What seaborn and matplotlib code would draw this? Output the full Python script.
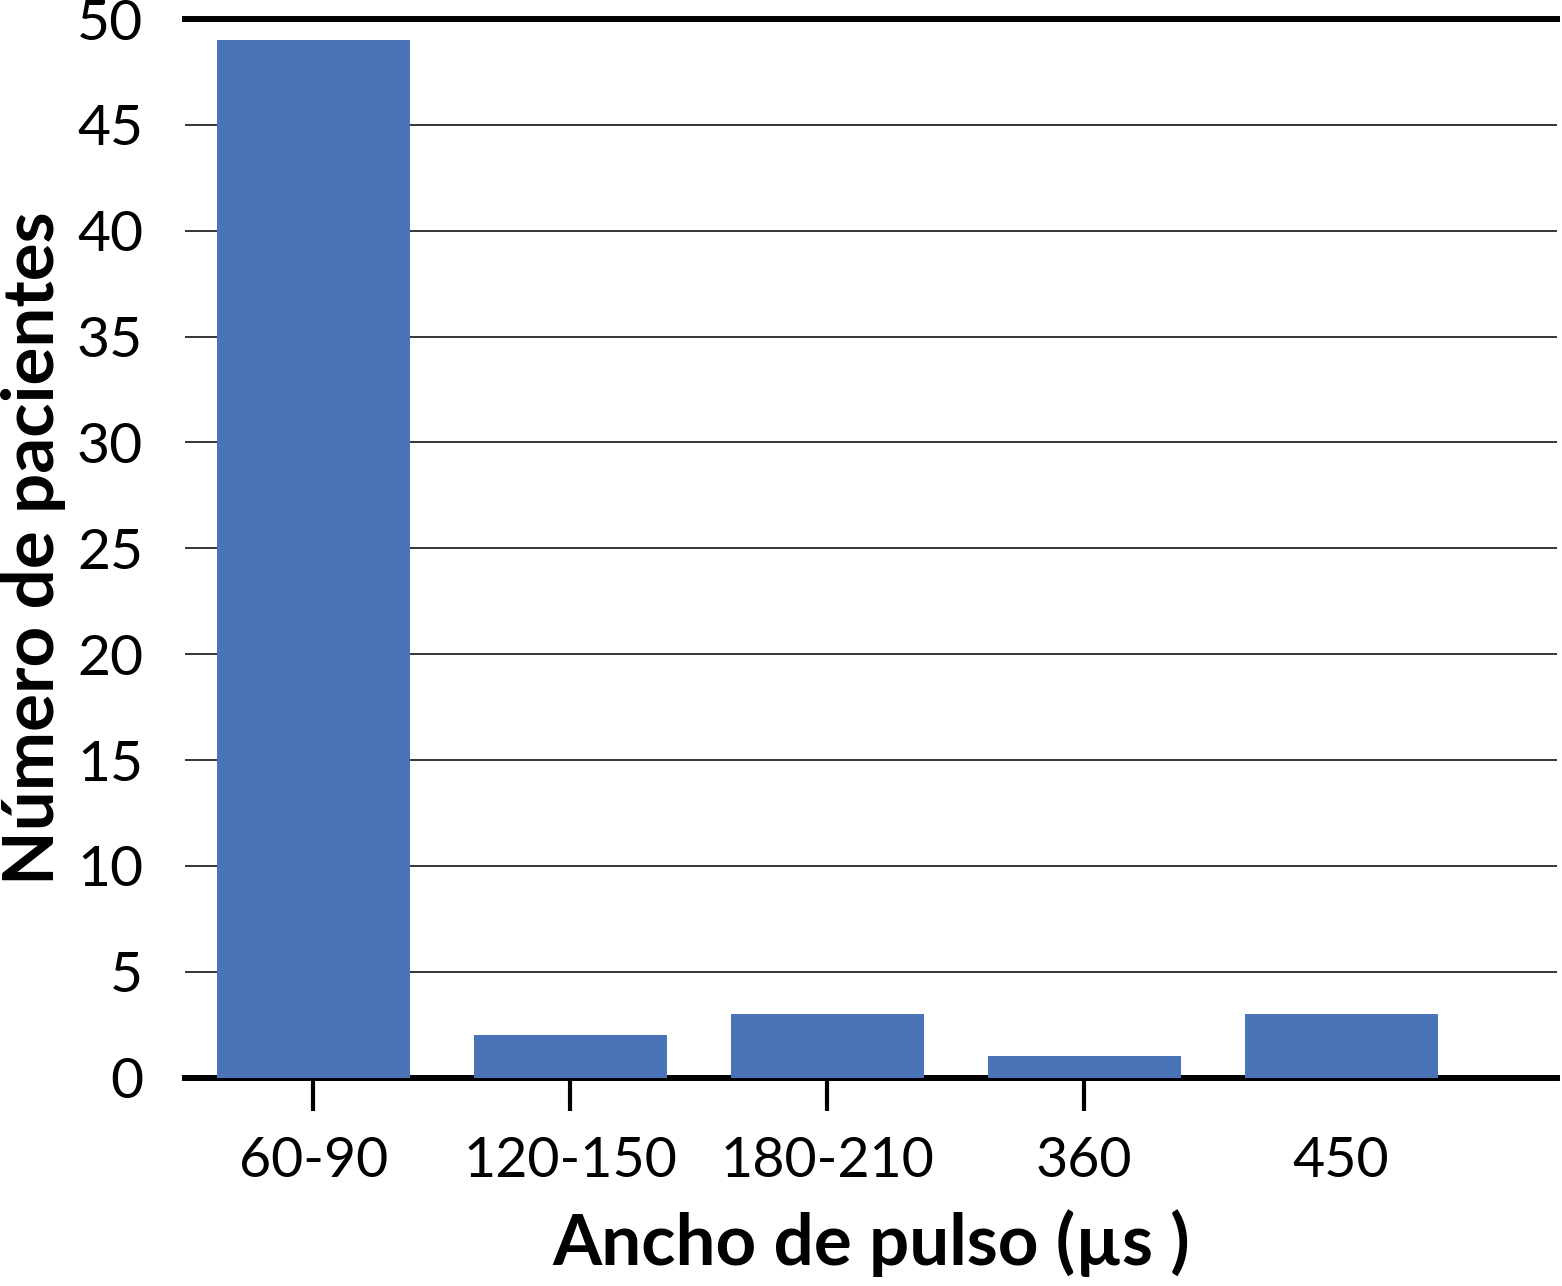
import seaborn as sns
import pandas as pd
import matplotlib.pyplot as plt

# data
categories = ['60-90', '120-150', '180-210', '360', '450']
pacientes = [49, 2, 3, 1, 3]
y_ticks = [0, 5, 10, 15, 20, 25, 30, 35, 40, 45, 50]

df = pd.DataFrame({'ancho': categories, 'pacientes': pacientes})

sns.set_style('white')
plt.rcParams['font.family'] = ['Lato', 'DejaVu Sans']
plt.rcParams['text.color'] = 'black'
plt.rcParams['axes.labelcolor'] = 'black'
plt.rcParams['xtick.color'] = 'black'
plt.rcParams['ytick.color'] = 'black'

fig = plt.figure(figsize=(15.62, 12.86), dpi=100)
ax = fig.add_axes([0.1184, 0.162, 0.8784, 0.8232])

sns.barplot(data=df, x='ancho', y='pacientes', color='#4A73B8',
            width=0.75, saturation=1, linewidth=0, ax=ax, zorder=3)

ax.set_xlim(-0.5, 4.84)
ax.set_ylim(0, 50)
ax.set_yticks(y_ticks)
ax.yaxis.grid(True, color='black', linewidth=1.1, zorder=0)
ax.set_axisbelow(True)

for side in ['left', 'right']:
    ax.spines[side].set_visible(False)
for side in ['top', 'bottom']:
    ax.spines[side].set_visible(True)
    ax.spines[side].set_linewidth(4.3)
    ax.spines[side].set_color('black')

ax.tick_params(axis='y', length=0, pad=30, labelsize=41)
ax.tick_params(axis='x', length=24, width=3, direction='out',
               pad=18, labelsize=40, bottom=True)
# no tick mark under the last category
ax.xaxis.get_major_ticks()[-1].tick1line.set_visible(False)

ax.set_xlabel('Ancho de pulso (µs )', fontsize=51, fontweight='bold', labelpad=16)
ax.set_ylabel('Número de pacientes', fontsize=51, fontweight='bold', labelpad=8)

fig.savefig('out.png', dpi=100)
